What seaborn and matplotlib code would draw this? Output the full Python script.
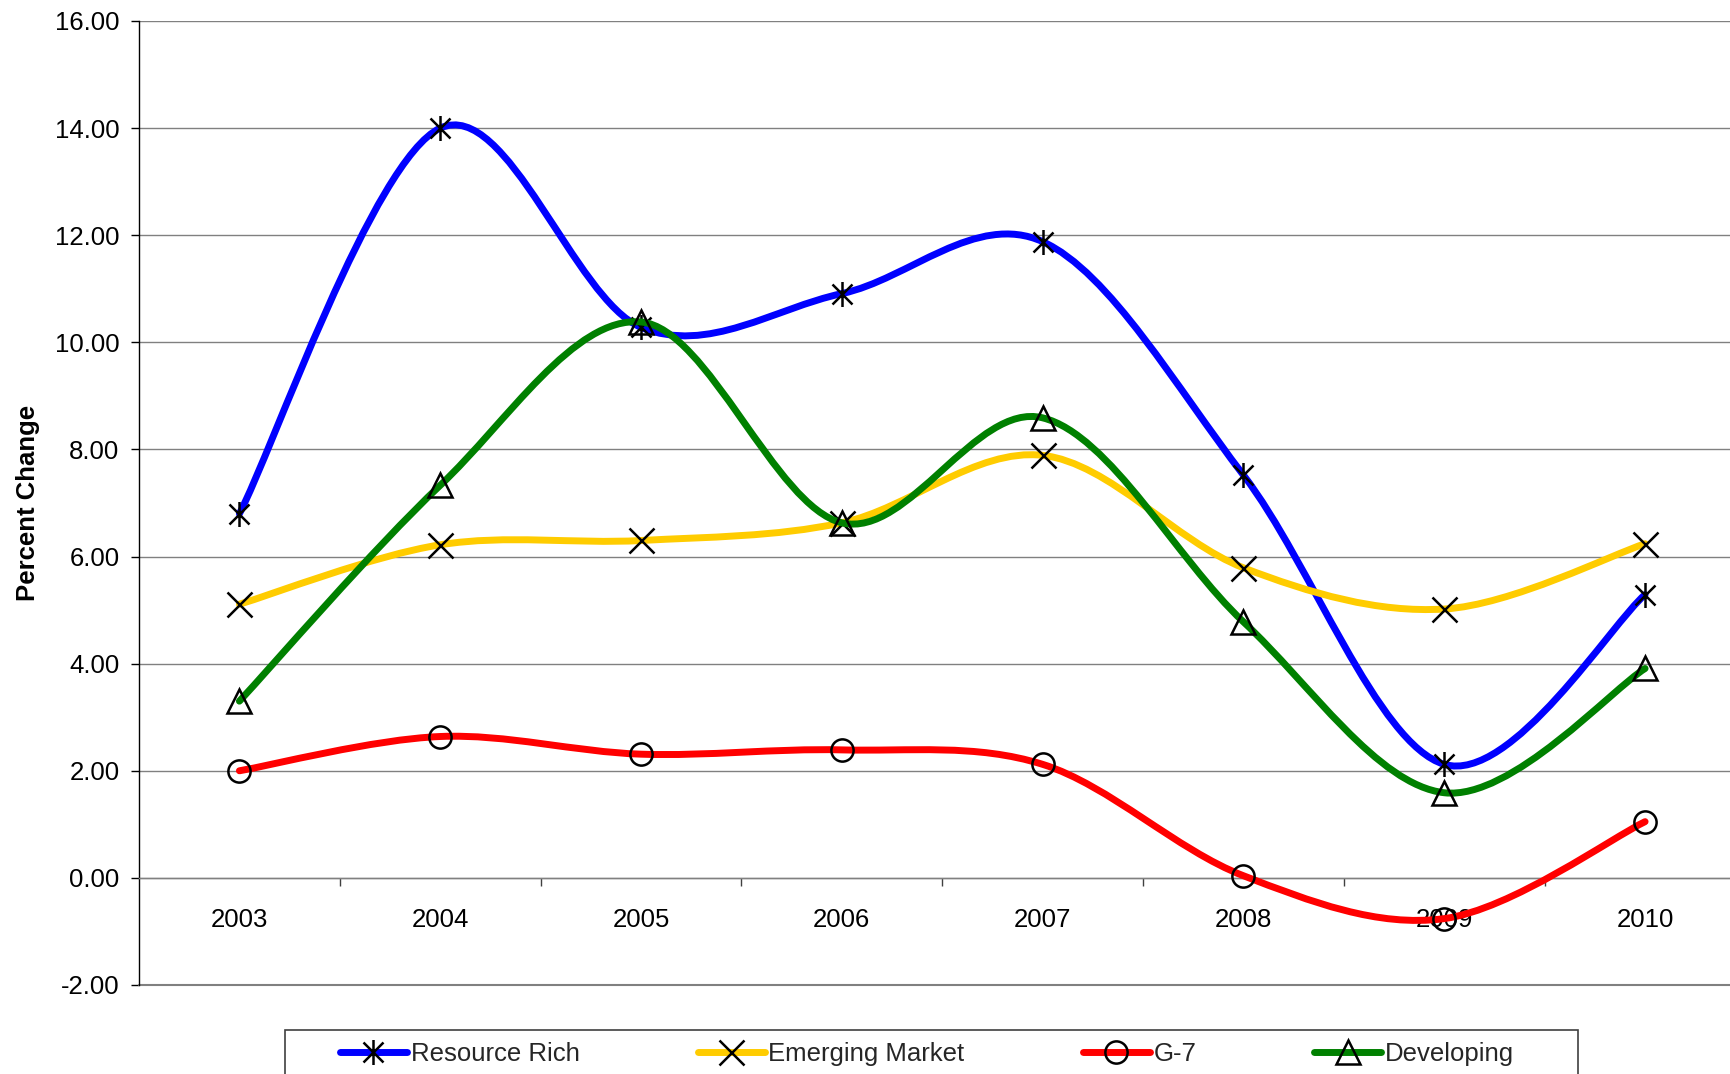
import numpy as np
import seaborn as sns
import matplotlib.pyplot as plt
from matplotlib.path import Path
from matplotlib.patches import PathPatch, Rectangle
from matplotlib.lines import Line2D
from matplotlib.ticker import FormatStrFormatter

# --- Datos ---
years = ["2003", "2004", "2005", "2006", "2007", "2008", "2009", "2010"]
resource_rich = [6.80, 14.00, 10.28, 10.91, 11.88, 7.52, 2.12, 5.29]
emerging_market = [5.11, 6.22, 6.30, 6.63, 7.89, 5.79, 5.02, 6.24]
g7 = [2.00, 2.64, 2.31, 2.39, 2.12, 0.04, -0.76, 1.05]
developing = [3.30, 7.33, 10.38, 6.63, 8.59, 4.78, 1.59, 3.91]

series_names = ["Resource Rich", "Emerging Market", "G-7", "Developing"]
series_values = [resource_rich, emerging_market, g7, developing]
colors = ["#0000FF", "#FFCC00", "#FF0000", "#008000"]

# marcador tipo asterisco de Excel (x + barra vertical)
star_marker = Path([(-1, -1), (1, 1), (-1, 1), (1, -1), (0, -1.25), (0, 1.25)],
                   [Path.MOVETO, Path.LINETO, Path.MOVETO, Path.LINETO, Path.MOVETO, Path.LINETO])
markers = [star_marker, "x", "o", "^"]
msizes = [18, 18, 16, 17]


def smooth_path(xs, ys):
    # curva Bezier tipo "línea suavizada" de Excel (Catmull-Rom)
    pts = np.column_stack([xs, ys]).astype(float)
    n = len(pts)
    verts = [pts[0]]
    codes = [Path.MOVETO]
    for i in range(n - 1):
        p0 = pts[i - 1] if i > 0 else pts[i]
        p1 = pts[i]
        p2 = pts[i + 1]
        p3 = pts[i + 2] if i + 2 < n else pts[i + 1]
        c1 = p1 + (p2 - p0) / 6.0
        c2 = p2 - (p3 - p1) / 6.0
        verts += [c1, c2, p2]
        codes += [Path.CURVE4] * 3
    return Path(verts, codes)


sns.set_theme(style="white")
plt.rcParams["font.family"] = ["Liberation Sans", "DejaVu Sans"]

fig = plt.figure(figsize=(17.3, 10.74), dpi=100)
ax = fig.add_axes([139 / 1730, 1 - 985 / 1074, 1606.5 / 1730, 964 / 1074])

x = np.arange(len(years))
for i, (name, vals, col, mk, ms) in enumerate(zip(series_names, series_values, colors, markers, msizes)):
    z = 3 + i * 0.1
    patch = PathPatch(smooth_path(x, vals), facecolor="none", edgecolor=col, lw=5,
                      capstyle="round", joinstyle="round", zorder=z)
    ax.add_patch(patch)
    sns.lineplot(x=x, y=vals, ax=ax, linestyle="none", marker=mk, markersize=ms,
                 mec="black", mfc="none", mew=1.8, zorder=z + 0.05, legend=False,
                 estimator=None, clip_on=False)

ax.set_xlim(-0.5, 7.5)
ax.set_ylim(-2, 16)
ax.set_yticks(np.arange(-2, 17, 2))
ax.yaxis.set_major_formatter(FormatStrFormatter("%.2f"))
ax.yaxis.grid(True, color="#808080", lw=1.0)
ax.set_axisbelow(True)

ax.spines["top"].set_visible(False)
ax.spines["right"].set_visible(False)
ax.spines["left"].set_color("black")
ax.spines["left"].set_linewidth(1.0)
ax.spines["bottom"].set_position(("data", 0))
ax.spines["bottom"].set_color("#808080")
ax.spines["bottom"].set_linewidth(1.0)
ax.axhline(-2, color="#808080", lw=1.5, zorder=1, clip_on=False)

ax.set_xticks(np.arange(0.5, 7, 1))
ax.set_xticklabels([])
ax.set_xticks(x, minor=True)
ax.set_xticklabels(years, minor=True)
ax.tick_params(axis="x", which="major", direction="out", length=6, width=1, color="#404040", bottom=True)
ax.tick_params(axis="x", which="minor", length=0, pad=22, labelsize=18.5, labelcolor="black", bottom=True)
ax.tick_params(axis="y", direction="out", length=6, width=1, color="black", left=True,
               labelsize=18.5, labelcolor="black", pad=8)

ax.set_xlabel("")
ax.set_ylabel("Percent Change", fontsize=18.5, fontweight="bold", color="black", va="center")
ax.yaxis.set_label_coords(-0.069, 0.5)

# --- Leyenda ---
handles = [Line2D([], [], color=c, lw=5, marker=m, markersize=ms, mec="black", mfc="none", mew=1.8)
           for c, m, ms in zip(colors, markers, msizes)]
fig.legend(handles, series_names, loc="center left", bbox_to_anchor=(340 / 1730, 1 - 1054 / 1074),
           ncol=4, frameon=False, fontsize=18.5, handlelength=2.6, handletextpad=0.15,
           columnspacing=4.6, borderpad=0, borderaxespad=0)
fig.patches.append(Rectangle((285 / 1730, -0.01), (1578 - 285) / 1730, 1 - 1030 / 1074 + 0.01,
                             transform=fig.transFigure, fill=False, edgecolor="#404040", lw=1.2))

fig.savefig("out.png", dpi=100, facecolor="white")
